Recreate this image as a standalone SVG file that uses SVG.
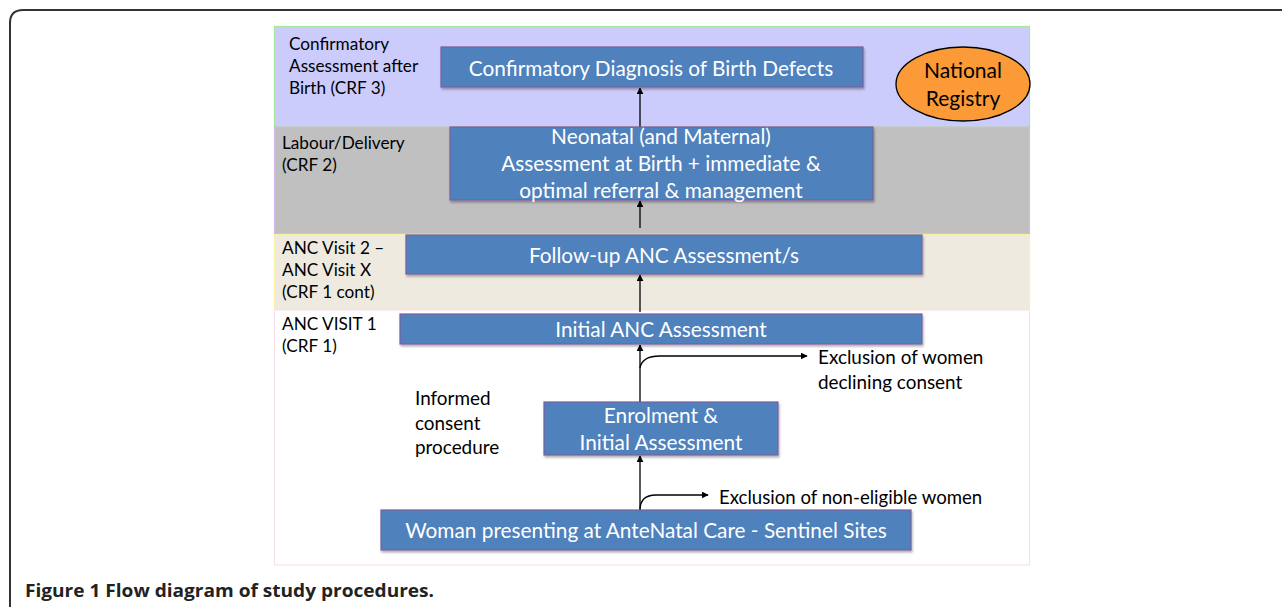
<svg xmlns="http://www.w3.org/2000/svg" width="1282" height="607" viewBox="0 0 1282 607">
<defs>
<style>
.lbl{font-family:Lato,"Liberation Sans",sans-serif;font-size:17.2px;fill:#000}
.txt{font-family:Lato,"Liberation Sans",sans-serif;font-size:18.9px;fill:#000}
.bt{font-family:Lato,"Liberation Sans",sans-serif;font-size:20.8px;fill:#fff;text-anchor:middle}
.box{fill:#4f81bd;stroke:#7b5f9e;stroke-width:1.2}
.con{fill:none;stroke:#000;stroke-width:1.3}
</style>
<marker id="ah" viewBox="0 0 10 10" refX="9" refY="5" markerWidth="7" markerHeight="7" orient="auto" markerUnits="userSpaceOnUse">
<path d="M0,0 L10,5 L0,10 z" fill="#000"/>
</marker>
<filter id="sh" x="-5%" y="-10%" width="110%" height="130%">
<feDropShadow dx="1" dy="2" stdDeviation="1" flood-color="#000" flood-opacity="0.3"/>
</filter>
</defs>
<rect width="1282" height="607" fill="#fff"/>
<path d="M10,640 L10,23 Q10,10 23,10 L1300,10" fill="none" stroke="#333" stroke-width="2"/>

<g id="bands">
<rect x="274.5" y="26.5" width="755" height="100" fill="#ccccfc" stroke="#a6e89a" stroke-width="1.2"/>
<rect x="274.5" y="127" width="755" height="107" fill="#c0c0c0" stroke="#d4b8ee" stroke-width="1.2"/>
<rect x="274.5" y="234.5" width="755" height="75" fill="#eeeae0" stroke="#f6f0a8" stroke-width="1.2"/>
<rect x="274.5" y="310" width="755" height="255" fill="#fff" stroke="#f8e0f0" stroke-width="1.2"/>
</g>

<g id="band-labels">
<text class="lbl" x="289" y="50">Confirmatory</text>
<text class="lbl" x="289" y="72">Assessment after</text>
<text class="lbl" x="289" y="94">Birth (CRF 3)</text>
<text class="lbl" x="282" y="149">Labour/Delivery</text>
<text class="lbl" x="282" y="171">(CRF 2)</text>
<text class="lbl" x="282" y="254">ANC Visit 2 –</text>
<text class="lbl" x="282" y="276">ANC Visit X</text>
<text class="lbl" x="282" y="298">(CRF 1 cont)</text>
<text class="lbl" x="282" y="330">ANC VISIT 1</text>
<text class="lbl" x="282" y="352">(CRF 1)</text>
</g>

<g id="connectors">
<line class="con" x1="640" y1="127" x2="640" y2="88" marker-end="url(#ah)"/>
<line class="con" x1="640" y1="228" x2="640" y2="201" marker-end="url(#ah)"/>
<line class="con" x1="640" y1="312" x2="640" y2="275" marker-end="url(#ah)"/>
<line class="con" x1="640" y1="402" x2="640" y2="345" marker-end="url(#ah)"/>
<path class="con" d="M640,368 Q642,356 660,356 L807,356" marker-end="url(#ah)"/>
<line class="con" x1="640" y1="510" x2="640" y2="456" marker-end="url(#ah)"/>
<path class="con" d="M640,510 Q640,495 656,495 L708,495" marker-end="url(#ah)"/>
</g>

<g id="n-confirm">
<rect class="box" x="441" y="47" width="422" height="40" filter="url(#sh)"/>
<text class="bt" x="651" y="75.5">Confirmatory Diagnosis of Birth Defects</text>
</g>
<g id="n-registry">
<ellipse cx="963" cy="84" rx="67" ry="37" fill="#fb9a37" stroke="#000" stroke-width="1.3"/>
<text class="txt" x="963" y="78" text-anchor="middle" style="font-size:21px">National</text>
<text class="txt" x="963" y="106" text-anchor="middle" style="font-size:21px">Registry</text>
</g>
<g id="n-neonatal">
<rect class="box" x="450" y="127" width="423" height="73" filter="url(#sh)"/>
<text class="bt" x="661" y="144">Neonatal (and Maternal)</text>
<text class="bt" x="661" y="171">Assessment at Birth + immediate &amp;</text>
<text class="bt" x="661" y="198">optimal referral &amp; management</text>
</g>
<g id="n-followup">
<rect class="box" x="406" y="235" width="516" height="39" filter="url(#sh)"/>
<text class="bt" x="664" y="263">Follow-up ANC Assessment/s</text>
</g>
<g id="n-initial">
<rect class="box" x="400" y="314" width="522" height="30" filter="url(#sh)"/>
<text class="bt" x="661" y="336.5">Initial ANC Assessment</text>
</g>
<g id="n-enrol">
<rect class="box" x="544" y="402" width="234" height="53" filter="url(#sh)"/>
<text class="bt" x="661" y="423">Enrolment &amp;</text>
<text class="bt" x="661" y="450">Initial Assessment</text>
</g>
<g id="n-woman">
<rect class="box" x="381" y="510" width="530" height="40" filter="url(#sh)"/>
<text class="bt" x="646" y="538">Woman presenting at AnteNatal Care - Sentinel Sites</text>
</g>

<g id="notes">
<text class="txt" x="415" y="405">Informed</text>
<text class="txt" x="415" y="430">consent</text>
<text class="txt" x="415" y="454">procedure</text>
<text class="txt" x="818" y="364">Exclusion of women</text>
<text class="txt" x="818" y="389">declining consent</text>
<text class="txt" x="719" y="504" style="font-size:18.6px">Exclusion of non-eligible women</text>
</g>

<text x="25" y="597" textLength="409" lengthAdjust="spacingAndGlyphs" style="font-family:'Open Sans','Liberation Sans',sans-serif;font-size:18px;font-weight:bold;fill:#222">Figure 1 Flow diagram of study procedures.</text>
</svg>
